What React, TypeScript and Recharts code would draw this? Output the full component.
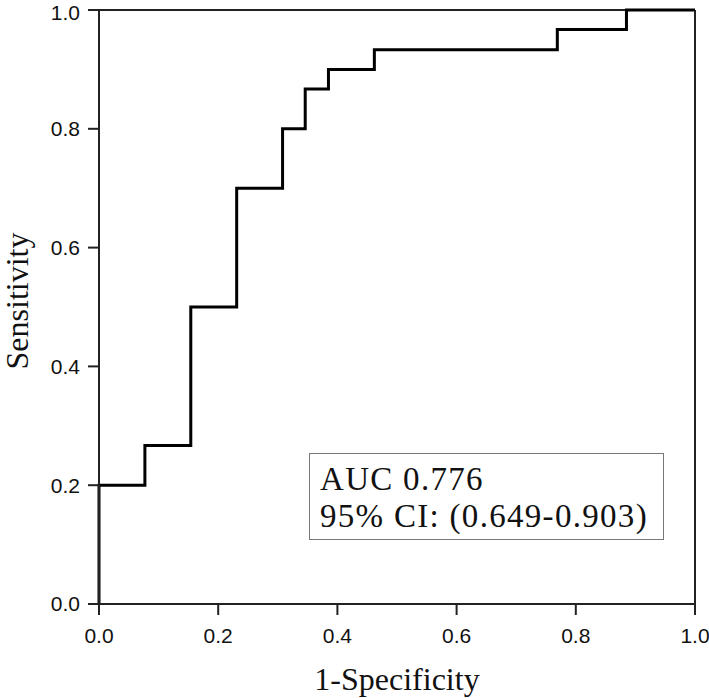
import { LineChart, Line, XAxis, YAxis, ReferenceLine } from "recharts";

// ROC curve corners (1 - specificity, sensitivity), drawn as a step line
const fpr = [0, 0, 0.077, 0.154, 0.231, 0.308, 0.346, 0.385, 0.462, 0.769, 0.885, 1];
const tpr = [0, 0.2, 0.267, 0.5, 0.7, 0.8, 0.867, 0.9, 0.933, 0.967, 1, 1];
const axisTicks = [0, 0.2, 0.4, 0.6, 0.8, 1];
const aucText = "AUC 0.776";
const ciText = "95% CI: (0.649-0.903)";

const rocData = fpr.map((x, i) => ({ fpr: x, tpr: tpr[i] }));

const axisStroke = { stroke: "#222", strokeWidth: 2 };
const tickStyle = { fill: "#111", fontSize: 21, fontFamily: "Liberation Sans, Arial, sans-serif" };
const titleStyle = { fill: "#111", fontSize: 32, fontFamily: "Liberation Serif, Times New Roman, serif" };

const App = () => {
  return (
    <div style={{ position: "absolute", left: 0, top: 0, width: 709, height: 698, background: "#fff" }}>
      <LineChart width={709} height={698} data={rocData} margin={{ top: 10, right: 14, bottom: 0, left: 0 }}>
        <XAxis
          type="number"
          dataKey="fpr"
          domain={[0, 1]}
          ticks={axisTicks}
          tickFormatter={(v) => v.toFixed(1)}
          height={94}
          tickSize={11}
          tickMargin={13}
          tick={tickStyle}
          axisLine={axisStroke}
          tickLine={axisStroke}
          label={{ value: "1-Specificity", position: "insideBottom", offset: 8, style: titleStyle }}
        />
        <YAxis
          type="number"
          domain={[0, 1]}
          ticks={axisTicks}
          tickFormatter={(v) => v.toFixed(1)}
          width={99}
          tickSize={11}
          tickMargin={8}
          tick={tickStyle}
          axisLine={axisStroke}
          tickLine={axisStroke}
          label={{ value: "Sensitivity", angle: -90, position: "insideLeft", offset: 17, dy: -6, style: { ...titleStyle, textAnchor: "middle" } }}
        />
        <ReferenceLine y={1} stroke="#222" strokeWidth={2} />
        <ReferenceLine x={1} stroke="#222" strokeWidth={2} />
        <Line
          type="stepAfter"
          dataKey="tpr"
          stroke="#000"
          strokeWidth={3}
          dot={false}
          isAnimationActive={false}
        />
      </LineChart>
      <svg
        width={709}
        height={698}
        style={{ position: "absolute", left: 0, top: 0, pointerEvents: "none" }}
      >
        <rect x={309.5} y={453.5} width={354} height={86} fill="#fff" stroke="#777" strokeWidth={1} />
        <text x={320} y={490} fontSize={33} fontFamily="Liberation Serif, Times New Roman, serif" fill="#111" letterSpacing={1.3}>
          {aucText}
        </text>
        <text x={320} y={527} fontSize={33} fontFamily="Liberation Serif, Times New Roman, serif" fill="#111" letterSpacing={1.3}>
          {ciText}
        </text>
      </svg>
    </div>
  );
};

export default App;
